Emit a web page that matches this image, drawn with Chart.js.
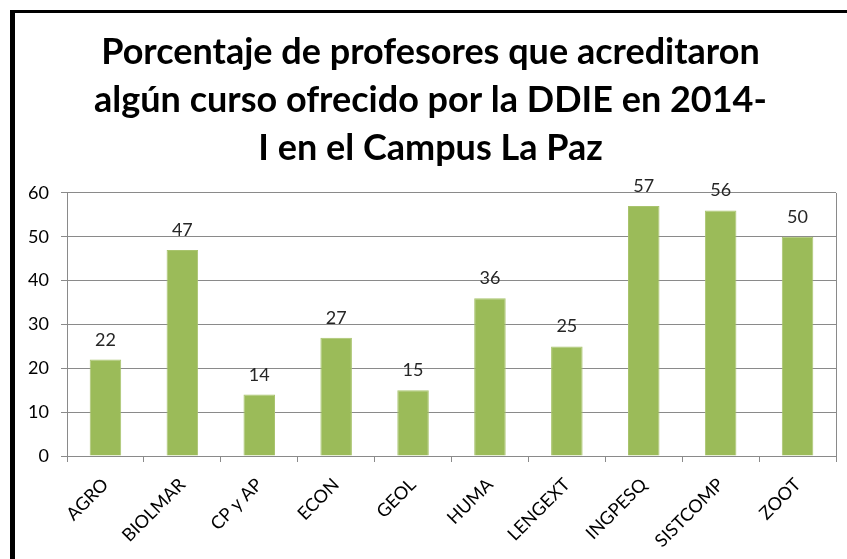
<!DOCTYPE html>
<html>
<head>
<meta charset="utf-8">
<script src="https://cdn.jsdelivr.net/npm/chart.js@4/dist/chart.umd.min.js"></script>
<style>
  html, body { margin: 0; padding: 0; background: #fff; }
  #wrap { position: relative; width: 847px; height: 559px; overflow: hidden; }
  #frame { position: absolute; left: 10px; top: 10px; right: -10px; bottom: -10px; border-top: 3px solid #000; border-left: 5px solid #000; pointer-events: none; }
  canvas { position: absolute; left: 0; top: 0; }
</style>
</head>
<body>
<div id="wrap">
  <canvas id="c" width="847" height="559"></canvas>
  <div id="frame"></div>
</div>
<script>
const categories = ["AGRO", "BIOLMAR", "CP y AP", "ECON", "GEOL", "HUMA", "LENGEXT", "INGPESQ", "SISTCOMP", "ZOOT"];
const values = [22, 47, 14, 27, 15, 36, 25, 57, 56, 50];
const titleLines = ["Porcentaje de profesores que acreditaron", "algún curso ofrecido por la DDIE en 2014-", "I en el Campus La Paz"];
const yMin = 0, yMax = 60, yStep = 10;

const FONT = "Lato, 'Open Sans', sans-serif";
const GRID = "#8a8a8a";

const valueLabels = {
  id: "valueLabels",
  afterDatasetsDraw(chart) {
    const ctx = chart.ctx;
    const meta = chart.getDatasetMeta(0);
    ctx.save();
    ctx.font = "18px " + FONT;
    ctx.fillStyle = "#262626";
    ctx.textAlign = "center";
    ctx.textBaseline = "alphabetic";
    meta.data.forEach((el, i) => {
      ctx.fillText(String(chart.data.datasets[0].data[i]), el.x, el.y - 14);
    });
    ctx.restore();
  }
};

const plotBorder = {
  id: "plotBorder",
  beforeDatasetsDraw(chart) {
    const a = chart.chartArea, ctx = chart.ctx;
    ctx.save();
    ctx.strokeStyle = GRID;
    ctx.lineWidth = 1;
    ctx.beginPath();
    ctx.moveTo(Math.round(a.right) + 0.5, a.top);
    ctx.lineTo(Math.round(a.right) + 0.5, a.bottom);
    ctx.stroke();
    ctx.restore();
  }
};

new Chart(document.getElementById("c"), {
  type: "bar",
  data: {
    labels: categories,
    datasets: [{
      data: values,
      backgroundColor: "#9bbb59",
      borderColor: "#a9c46e",
      borderWidth: 1,
      categoryPercentage: 1,
      barPercentage: 0.41
    }]
  },
  options: {
    responsive: false,
    animation: false,
    devicePixelRatio: 1,
    layout: { padding: { top: 0, left: 25, right: 11, bottom: 0 } },
    plugins: {
      legend: { display: false },
      tooltip: { enabled: false },
      title: {
        display: true,
        text: titleLines,
        color: "#000",
        font: { family: FONT, size: 36, weight: "bold", lineHeight: 1.333 },
        padding: { top: 28, bottom: 21 }
      }
    },
    scales: {
      x: {
        grid: { display: true, drawOnChartArea: false, offset: true, color: GRID, tickLength: 6 },
        border: { color: GRID },
        ticks: { color: "#000", font: { family: FONT, size: 18 }, minRotation: 45, maxRotation: 45, padding: 12 },
        afterFit(scale) { scale.height = 103; }
      },
      y: {
        min: yMin, max: yMax,
        grid: { color: GRID, tickLength: 6 },
        border: { color: GRID },
        ticks: { stepSize: yStep, color: "#000", font: { family: FONT, size: 18 }, padding: 12 },
        afterFit(scale) { scale.width = 42; }
      }
    }
  },
  plugins: [valueLabels, plotBorder]
});
</script>
</body>
</html>
